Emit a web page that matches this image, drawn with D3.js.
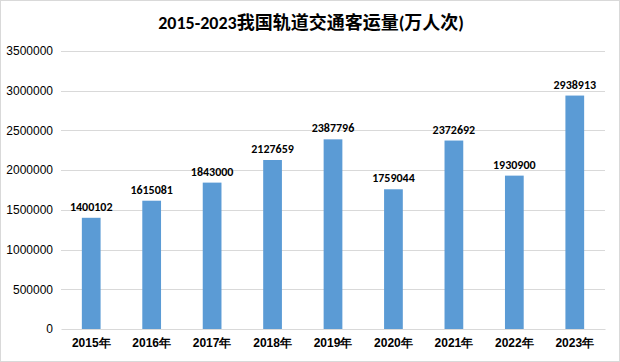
<!DOCTYPE html>
<html>
<head>
<meta charset="utf-8">
<script src="https://cdn.jsdelivr.net/npm/d3@7"></script>
<style>
  body { margin: 0; background: #fff; }
  svg { display: block; font-family: Calibri, "Liberation Sans", "Noto Sans CJK SC", sans-serif; }
</style>
</head>
<body>
<svg id="chart"></svg>
<script>
const years = ['2015年', '2016年', '2017年', '2018年', '2019年', '2020年', '2021年', '2022年', '2023年'];
const passengers = [1400102, 1615081, 1843000, 2127659, 2387796, 1759044, 2372692, 1930900, 2938913];
const yTicks = [0, 500000, 1000000, 1500000, 2000000, 2500000, 3000000, 3500000];

const W = 620, H = 362;
const margin = {top: 51, right: 15, bottom: 33, left: 61};
const width = W - margin.left - margin.right;
const height = H - margin.top - margin.bottom;

const data = years.map((y, i) => ({year: y, value: passengers[i]}));

const svg = d3.select('#chart').attr('width', W).attr('height', H);

// outer frame
svg.append('rect')
    .attr('x', 0.5).attr('y', 0.5)
    .attr('width', W - 1).attr('height', H - 1)
    .attr('fill', '#fff')
    .attr('stroke', '#d9d9d9');

svg.append('text')
    .attr('x', W / 2 + 1).attr('y', 29)
    .attr('text-anchor', 'middle')
    .style('font-size', '18px')
    .style('font-weight', 'bold')
    .attr('fill', '#000')
    .text('2015-2023我国轨道交通客运量(万人次)');

const chart = svg.append('g').attr('transform', `translate(${margin.left},${margin.top})`);

const x = d3.scaleBand().domain(years).range([0, width]).paddingInner(0.69).paddingOuter(0.345);
const y = d3.scaleLinear().domain([0, 3500000]).range([height, 0]);

// gridlines
chart.append('g')
    .selectAll('line')
    .data(yTicks.slice(1))
    .join('line')
    .attr('x1', 0).attr('x2', width)
    .attr('y1', d => Math.round(y(d)) + 0.5).attr('y2', d => Math.round(y(d)) + 0.5)
    .attr('stroke', '#d9d9d9');

// y axis labels
const yAxis = d3.axisLeft(y).tickValues(yTicks).tickFormat(d3.format('d')).tickSize(0).tickPadding(8);
chart.append('g').call(yAxis)
    .call(g => g.select('.domain').remove())
    .call(g => g.selectAll('text').style('font-size', '12px').attr('fill', '#000'));

// bars
chart.selectAll('.bar')
    .data(data)
    .join('rect')
    .attr('class', 'bar')
    .attr('x', d => x(d.year))
    .attr('width', x.bandwidth())
    .attr('y', d => y(d.value))
    .attr('height', d => height - y(d.value))
    .attr('fill', '#5b9bd5');

// value labels
chart.selectAll('.val')
    .data(data)
    .join('text')
    .attr('class', 'val')
    .attr('x', d => x(d.year) + x.bandwidth() / 2)
    .attr('y', d => y(d.value) - 7)
    .attr('text-anchor', 'middle')
    .style('font-size', '12px')
    .style('font-weight', 'bold')
    .attr('fill', '#000')
    .text(d => d.value);

// x axis
const xAxis = d3.axisBottom(x).tickSize(0).tickPadding(9);
chart.append('g')
    .attr('transform', `translate(0,${height})`)
    .call(xAxis)
    .call(g => g.select('.domain').attr('stroke', '#d9d9d9'))
    .call(g => g.selectAll('text').style('font-size', '12px').style('font-weight', 'bold').attr('fill', '#000'));
</script>
</body>
</html>
